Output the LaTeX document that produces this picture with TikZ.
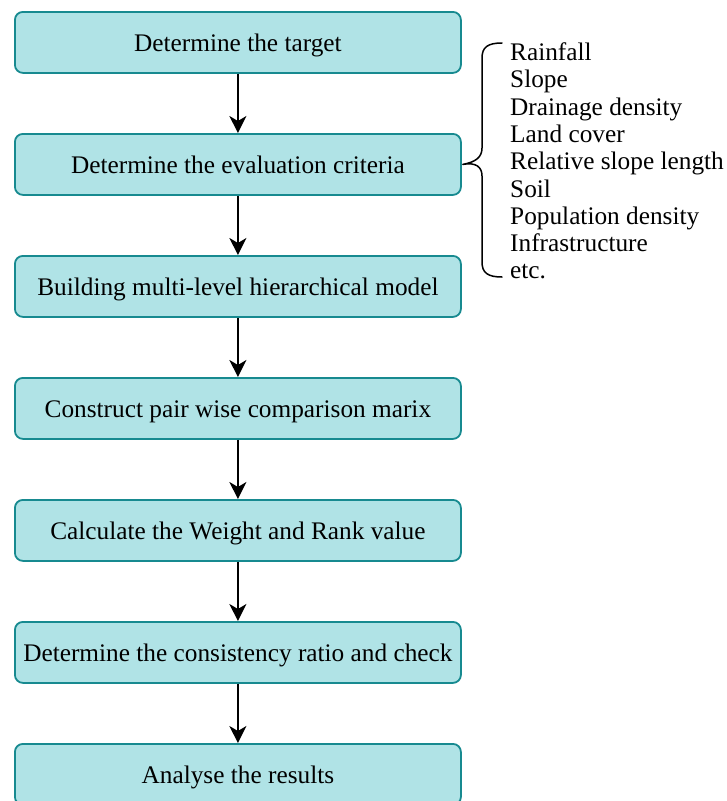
\documentclass[tikz,border=0pt]{standalone}
\usepackage{fontspec}
\setmainfont{Liberation Serif}
\usetikzlibrary{arrows.meta}
\definecolor{boxfill}{HTML}{B0E3E6}
\definecolor{boxdraw}{HTML}{178A90}
\begin{document}
\begin{tikzpicture}[x=1pt,y=-1pt,
  stepbox/.style={draw=boxdraw, fill=boxfill, line width=1.8pt, rounded corners=8pt,
    minimum width=446pt, minimum height=61pt, inner sep=0pt, text height=18pt, text depth=0pt,
    font=\fontsize{25.3}{28}\selectfont, anchor=north west},
  flow/.style={-{Stealth[length=17pt,width=17pt,inset=5pt]}, line width=1.8pt},
  brace/.style={line width=1.5pt, line join=round, line cap=round}]
\useasboundingbox (0,0) rectangle (727,801);
\node[stepbox] (s1) at (14,11)  {Determine the target};
\node[stepbox] (s2) at (14,133) {Determine the evaluation criteria};
\node[stepbox] (s3) at (14,255) {Building multi-level hierarchical model};
\node[stepbox] (s4) at (14,377) {Construct pair wise comparison marix};
\node[stepbox] (s5) at (14,499) {Calculate the Weight and Rank value};
\node[stepbox] (s6) at (14,621) {Determine the consistency ratio and check};
\node[stepbox] (s7) at (14,743) {Analyse the results};
\draw[flow] (s1) -- (s2);
\draw[flow] (s2) -- (s3);
\draw[flow] (s3) -- (s4);
\draw[flow] (s4) -- (s5);
\draw[flow] (s5) -- (s6);
\draw[flow] (s6) -- (s7);
\node[anchor=west, align=left, inner sep=0pt, font=\fontsize{25.3}{27.3}\selectfont] (crit) at (510,161)
  {Rainfall\\Slope\\Drainage density\\Land cover\\Relative slope length\\Soil\\Population density\\Infrastructure\\etc.};
\coordinate (tip) at ([xshift=1pt]s2.east);
\draw[brace] (502,43) .. controls (488,43) and (482,47) .. (482,58) -- (482,148)
  .. controls (482,157) and (476,162) .. (tip)
  .. controls (476,162) and (482,167) .. (482,176) -- (482,262)
  .. controls (482,273) and (488,277) .. (502,277);
\end{tikzpicture}
\end{document}
